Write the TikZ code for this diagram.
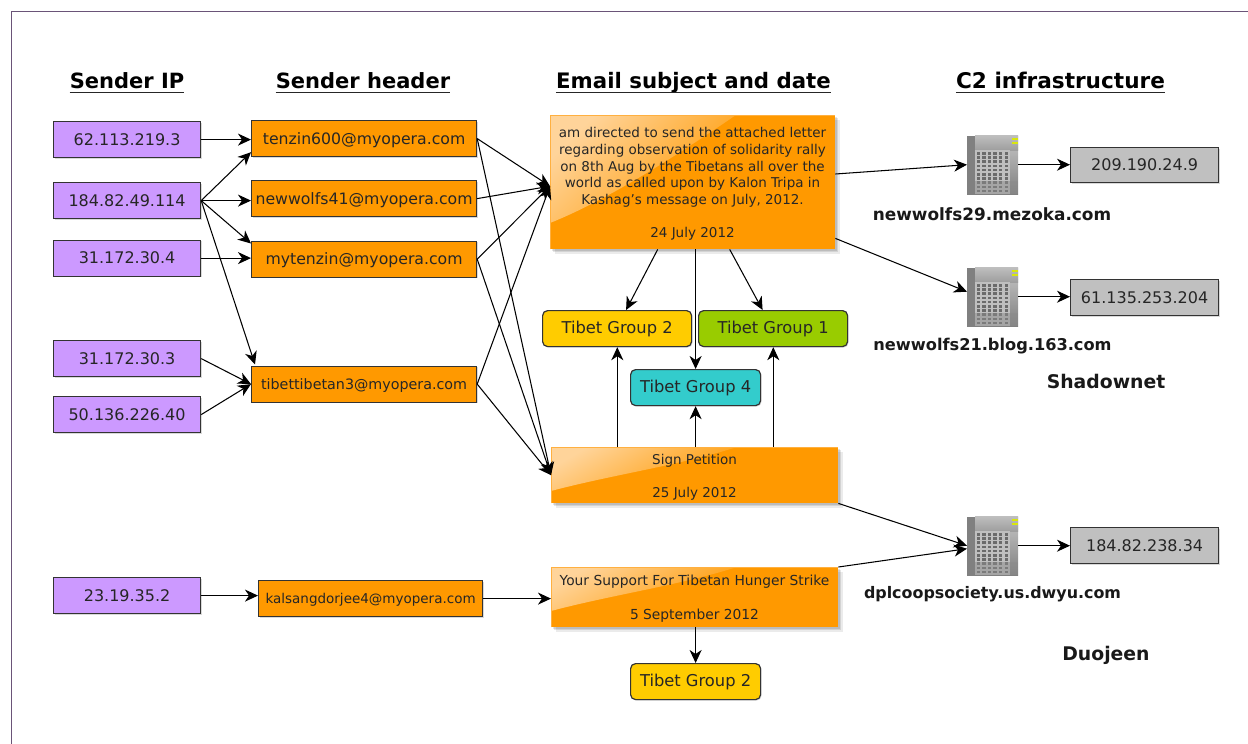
\documentclass[tikz,border=0pt]{standalone}
\usepackage{fontspec}
\setmainfont{DejaVu Sans}
\usetikzlibrary{arrows.meta,shadows,calc}
\definecolor{ipfill}{HTML}{CC99FF}
\definecolor{orangefill}{HTML}{FF9900}
\definecolor{glossc}{HTML}{FFD49A}
\definecolor{glossm}{HTML}{FFA820}
\definecolor{glosse}{HTML}{FFB040}
\definecolor{yel}{HTML}{FFCC00}
\definecolor{grn}{HTML}{99CC00}
\definecolor{tealc}{HTML}{33CCCC}
\definecolor{grayfill}{HTML}{C0C0C0}
\definecolor{framec}{HTML}{6A5478}
\definecolor{edgec}{HTML}{333333}
\tikzset{
  x=1pt,y=-1pt,
  arr/.style={draw=black,line width=1.05pt,-{Stealth[length=13pt,width=12pt,inset=4pt]}},
  boxbase/.style={draw=edgec,line width=1.2pt,inner sep=0pt,font=\fontsize{15.8}{18}\selectfont,text=black!85,anchor=north west,
     drop shadow={shadow xshift=1pt,shadow yshift=-1pt,fill=black,opacity=.15}},
  ipbox/.style={boxbase,fill=ipfill,minimum width=147pt,minimum height=36pt,font=\fontsize{16}{18}\selectfont,text height=11.7pt,text depth=0pt},
  hdrbox/.style={boxbase,fill=orangefill,minimum width=225pt,minimum height=36pt,font=\fontsize{15.7}{18}\selectfont,text height=11pt,text depth=0pt},
  grp/.style={boxbase,rounded corners=5pt,minimum height=36pt,font=\fontsize{16.3}{18}\selectfont},
  c2box/.style={boxbase,fill=grayfill,minimum width=148pt,minimum height=36pt,font=\fontsize{16}{18}\selectfont,text height=11.7pt,text depth=0pt},
  mailbox/.style={inner sep=0pt,fill=orangefill,anchor=north west,
     drop shadow={shadow xshift=1.5pt,shadow yshift=-1.5pt,fill=black,opacity=.1},
     drop shadow={shadow xshift=3pt,shadow yshift=-3pt,fill=black,opacity=.1},
     drop shadow={shadow xshift=4.5pt,shadow yshift=-4.5pt,fill=black,opacity=.08}},
  mailtext/.style={inner sep=0pt,align=center,text=black!85},
  head/.style={inner sep=0pt,font=\fontsize{21}{24}\bfseries\selectfont,text=black,text height=17pt,text depth=3.5pt},
  hline/.style={draw=black!85,line width=1.2pt},
  lab/.style={inner sep=0pt,font=\fontsize{16.2}{18}\bfseries\selectfont,text=black!90},
  bigl/.style={inner sep=0pt,font=\fontsize{18.8}{22}\bfseries\selectfont,text=black!90},
  srv/.style={inner sep=0pt,minimum width=51pt,minimum height=59pt,anchor=north west},
  rimline/.style={draw=glosse,line width=.9pt},
}
\newcommand{\glossbox}[1]{%
  \shade[left color=glossc,middle color=glossm,right color=orangefill,shading angle=45]
    (#1.north west) -- ($(#1.north west)+(186,0)$) .. controls ($(#1.north west)+(110,52)$) and ($(#1.north west)+(50,88)$) .. ($(#1.north west)+(0,108)$) -- cycle;
  \draw[rimline] (#1.south west) -- (#1.north west) -- (#1.north east);
}
\newcommand{\glossboxs}[1]{%
  \shade[left color=glossc,middle color=glossm,right color=orangefill,shading angle=30]
    (#1.north west) -- ($(#1.north west)+(186,0)$) .. controls ($(#1.north west)+(130,18)$) and ($(#1.north west)+(60,28)$) .. ($(#1.north west)+(0,44)$) -- cycle;
  \draw[rimline] (#1.south west) -- (#1.north west) -- (#1.north east);
}
\newcommand{\servericon}[1]{%
  \begin{scope}[shift={(#1.north west)}]
    \shade[top color=black!22,bottom color=black!50] (0,1) rectangle (51,59);
    \fill[black!50] (0,1) rectangle (8,59);
    \shade[top color=black!25,bottom color=black!38] (8,0) rectangle (51,15);
    \fill[black!25] (8,15) rectangle (43,59);
    \foreach \r in {0,...,9}{\foreach \c in {0,...,5}{
      \fill[black!58] ({9.5+\c*5.6},{17+\r*4.2}) rectangle ++(3.4,2.6);}}
    \fill[black!45,opacity=.5] (8,46) rectangle (51,59);
    \fill[yellow!85!green] (45,3) rectangle (51,5);
    \fill[yellow!85!green] (45,7) rectangle (51,9);
  \end{scope}
}
\begin{document}
\begin{tikzpicture}
\useasboundingbox (0,0) rectangle (1248,744);
\fill[white] (0,0) rectangle (1248,744);
\draw[framec,line width=.9pt] (11.5,744) -- (11.5,11.5) -- (1248,11.5);

% headings
\node[head] (t1) at (127,82) {Sender IP};
\node[head] (t2) at (363,82) {Sender header};
\node[head,font=\fontsize{21.3}{24}\bfseries\selectfont] (t3) at (693.5,82) {Email subject and date};
\node[head,font=\fontsize{21.6}{24}\bfseries\selectfont] (t4) at (1060.5,82) {C2 infrastructure};
\foreach \t in {t1,t2,t3,t4}{\draw[hline] (\t.south west) -- (\t.south east);}

% IPs
\node[ipbox] (ip1) at (53,121) {62.113.219.3};
\node[ipbox] (ip2) at (53,182) {184.82.49.114};
\node[ipbox] (ip3) at (53,239.5) {31.172.30.4};
\node[ipbox] (ip4) at (53,340) {31.172.30.3};
\node[ipbox] (ip5) at (53,396) {50.136.226.40};
\node[ipbox] (ip6) at (53,577) {23.19.35.2};

% headers
\node[hdrbox] (h1) at (251,120) {tenzin600@myopera.com};
\node[hdrbox] (h2) at (251,180) {newwolfs41@myopera.com};
\node[hdrbox] (h3) at (251,240.5) {mytenzin@myopera.com};
\node[hdrbox,font=\fontsize{14.3}{18}\selectfont] (h4) at (251,365.5) {tibettibetan3@myopera.com};
\node[hdrbox,minimum width=224pt,font=\fontsize{13.5}{16}\selectfont,text height=10pt] (h5) at (258,580) {kalsangdorjee4@myopera.com};

% mails
\node[mailbox,minimum width=285pt,minimum height=134pt] (m1) at (550,115) {};
\glossbox{m1}
\node[mailtext,font=\fontsize{13.5}{16.6}\selectfont] (m1t) at (692.5,184) {am directed to send the attached letter\\regarding observation of solidarity rally\\on 8th Aug by the Tibetans all over the\\world as called upon by Kalon Tripa in\\Kashag's message on July, 2012.\\[16.6pt]24 July 2012};
\node[mailbox,minimum width=287pt,minimum height=56pt] (m2) at (551,447) {};
\glossboxs{m2}
\node[mailtext,font=\fontsize{13.5}{16.5}\selectfont] (m2t) at (694.5,477.5) {Sign Petition\\[16.5pt]25 July 2012};
\node[mailbox,minimum width=287pt,minimum height=60pt] (m3) at (551,567) {};
\glossboxs{m3}
\node[mailtext,font=\fontsize{13.8}{17}\selectfont] (m3t) at (694.5,599) {Your Support For Tibetan Hunger Strike\\[17pt]5 September 2012};

% groups
\node[grp,fill=yel,minimum width=149pt] (g2) at (542,310) {Tibet Group 2};
\node[grp,fill=grn,minimum width=149pt] (g1) at (698,310) {Tibet Group 1};
\node[grp,fill=tealc,minimum width=130pt] (g4) at (630,369) {Tibet Group 4};
\node[grp,fill=yel,minimum width=130pt] (g2b) at (630,663) {Tibet Group 2};

% servers
\node[srv] (s1) at (967,135) {};
\node[srv] (s2) at (967,267) {};
\node[srv] (s3) at (967,516) {};
\servericon{s1}\servericon{s2}\servericon{s3}

% c2 IPs
\node[c2box,minimum height=35pt] (c1) at (1070,147) {209.190.24.9};
\node[c2box] (c2) at (1070,279) {61.135.253.204};
\node[c2box] (c3) at (1070,527) {184.82.238.34};

% labels
\node[lab,font=\fontsize{16.9}{18}\bfseries\selectfont] (l1) at (992,214) {newwolfs29.mezoka.com};
\node[lab] (l2) at (992.5,346) {newwolfs21.blog.163.com};
\node[lab,font=\fontsize{15.9}{18}\bfseries\selectfont] (l3) at (992.5,594) {dplcoopsociety.us.dwyu.com};
\node[bigl] (l4) at (1106,381) {Shadownet};
\node[bigl] (l5) at (1106,655) {Duojeen};

% connectors
\coordinate (xa) at (617.3,400);
\coordinate (xb) at (773.3,400);
\draw[arr] (ip1.east) -- (h1.west |- ip1.east);
\draw[arr] (ip2.east) -- ($(h1.south west)+(0,-5)$);
\draw[arr] (ip2.east) -- (h2.west |- ip2.east);
\draw[arr] (ip2.east) -- ($(h3.north west)+(0,3)$);
\draw[arr] (ip2.east) -- ($(h4.north west)+(4,-1)$);
\draw[arr] (ip3.east) -- (h3.west |- ip3.east);
\draw[arr] (ip4.east) -- (h4.west);
\draw[arr] (ip5.east) -- (h4.west);
\draw[arr] (ip6.east) -- (h5.west |- ip6.east);

\coordinate (min) at ($(m1.west)+(0,4)$);
\foreach \h in {h1,h2,h3,h4}{\draw[arr] (\h.east) -- (min);}
\foreach \h in {h1,h3,h4}{\draw[arr] (\h.east) -- (m2.west);}
\draw[arr] (h5.east) -- (h5.east -| m3.west);

\draw[arr] ($(m1.south)+(-35,0)$) -- ($(g2.north)+(9,0)$);
\draw[arr] ($(m1.south)+(37,0)$) -- ($(g1.north)+(-10.5,0)$);
\draw[arr] (m1.south -| g4.north) -- (g4.north);
\draw[arr] (xa |- m2.north) -- (xa |- g2.south);
\draw[arr] (m2.north -| g4.south) -- (g4.south);
\draw[arr] (xb |- m2.north) -- (xb |- g1.south);
\draw[arr] (m3.south -| g2b.north) -- (g2b.north);

\draw[arr] ($(m1.north east)+(0,59)$) -- ($(s1.west)+(0,0)$);
\draw[arr] ($(m1.south east)+(0,-11)$) -- ($(s2.west)+(0,-5)$);
\draw[arr] (m2.south east) -- ($(s3.west)+(0,0)$);
\draw[arr] (m3.north east) -- ($(s3.west)+(0,3)$);
\draw[arr] (s1.east) -- (c1.west |- s1.east);
\draw[arr] (s2.east) -- (c2.west |- s2.east);
\draw[arr] (s3.east) -- (c3.west |- s3.east);
\end{tikzpicture}
\end{document}
